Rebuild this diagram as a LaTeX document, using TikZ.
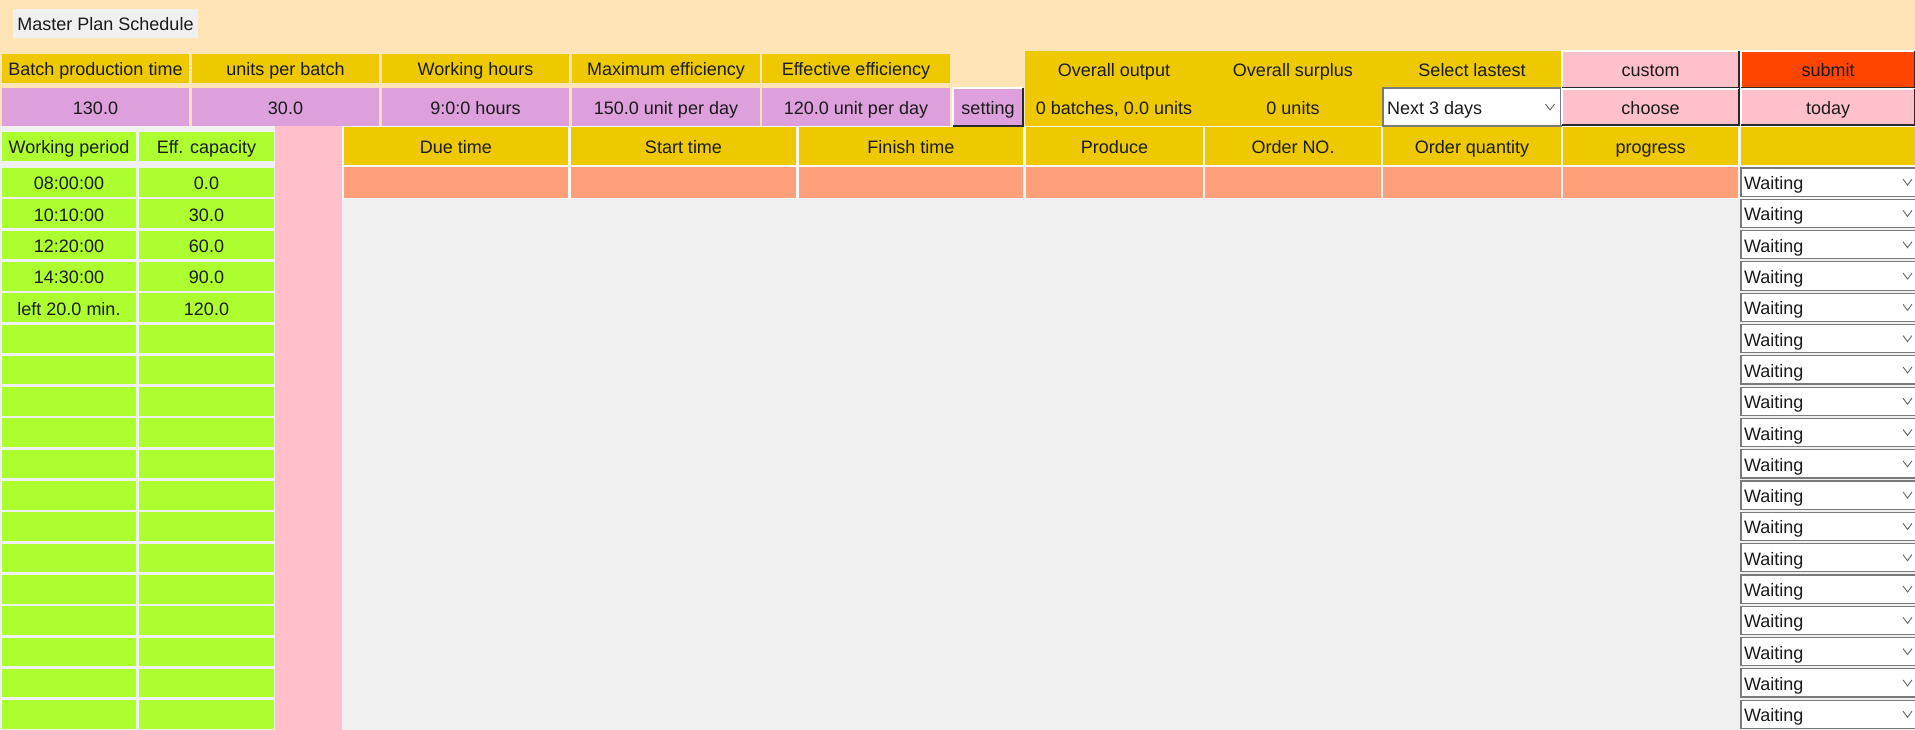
\documentclass[tikz,border=0pt]{standalone}
\usepackage{fontspec}
\setmainfont{Liberation Sans}
\definecolor{peach}{HTML}{FFE4B5}
\definecolor{ylw}{HTML}{EEC900}
\definecolor{plm}{HTML}{DDA0DD}
\definecolor{grn}{HTML}{ADFF2F}
\definecolor{pnk}{HTML}{FFC0CB}
\definecolor{slm}{HTML}{FFA07A}
\definecolor{org}{HTML}{FF4500}
\definecolor{gry}{HTML}{F0F0F0}
\definecolor{gap}{HTML}{F8F8F8}
\definecolor{txt}{HTML}{1A1A1A}
\definecolor{edge}{HTML}{7A7A7A}
\definecolor{dark}{HTML}{2A2A2A}
\newcommand\ucell[7]{%
  \pgfmathsetmacro\cw{#4-(#2)}%
  \pgfmathsetmacro\ch{#5-(#3)}%
  \node[cellbase,#6,minimum width=\cw pt,minimum height=\ch pt] (#1) at ({((#2)+(#4))/2},{((#3)+(#5))/2}) {#7};}
\newcommand\raised[1]{%
  \draw[btnlight] (#1.south west) -- (#1.north west) -- (#1.north east);
  \draw[btndark] (#1.north east) -- (#1.south east) -- (#1.south west);}
\tikzset{
  cellbase/.style={inner sep=0pt,outer sep=0pt,draw=none,text height=19pt,text depth=4pt,
    font=\fontsize{18}{20}\selectfont,text=txt},
  label/.style={inner sep=0pt,outer sep=0pt,text height=19pt,text depth=4pt,
    font=\fontsize{18}{20}\selectfont,text=txt},
  ycell/.style={fill=ylw},
  pcell/.style={fill=plm},
  gcell/.style={fill=grn},
  scell/.style={fill=slm},
  kcell/.style={fill=pnk},
  ocell/.style={fill=org},
  tcell/.style={fill=gry},
  combo/.style={fill=white,draw=edge,line width=1.2pt},
  btnlight/.style={white,line width=1.2pt},
  btndark/.style={dark,line width=1.6pt},
  chevron/.style={draw=black!60,line width=0.9pt}
}
\begin{document}
\begin{tikzpicture}[x=1pt,y=-1pt]
\useasboundingbox (0,0) rectangle (1915,730);
% backgrounds
\fill[peach] (0,0) rectangle (1915,126);
\fill[gry] (0,126) rectangle (1915,730);
\fill[gap] (342,126) rectangle (1915,199);
% title
\ucell{title}{13}{9}{198}{38}{tcell}{Master Plan Schedule}
% parameter row 1
\ucell{bpt}{2}{54}{189}{83}{ycell}{Batch production time}
\ucell{upb}{192}{54}{379}{83}{ycell}{units per batch}
\ucell{wh}{382}{54}{569}{83}{ycell}{Working hours}
\ucell{me}{572}{54}{760}{83}{ycell}{Maximum efficiency}
\ucell{ee}{762}{54}{950}{83}{ycell}{Effective efficiency}
% parameter row 2
\ucell{bptv}{2}{88}{189}{126}{pcell}{130.0}
\ucell{upbv}{192}{88}{379}{126}{pcell}{30.0}
\ucell{whv}{382}{88}{569}{126}{pcell}{9:0:0 hours}
\ucell{mev}{572}{88}{760}{126}{pcell}{150.0 unit per day}
\ucell{eev}{762}{88}{950}{126}{pcell}{120.0 unit per day}
\ucell{setting}{953}{88}{1023}{126}{pcell}{setting}
\raised{setting}
% overall block
\ucell{overall}{1025}{51}{1561}{126}{ycell}{}
\node[label] (ooh) at (1114,69) {Overall output};
\node[label] (osh) at (1293,69) {Overall surplus};
\node[label] (slh) at (1472,69) {Select lastest};
\node[label] (oov) at (1114,107) {0 batches, 0.0 units};
\node[label] (osv) at (1293,107) {0 units};
\ucell{next}{1383}{88}{1561}{126}{combo}{}
\node[label,anchor=west] (nexttxt) at (1387,107) {Next 3 days};
\draw[chevron] ([shift={(-15.5,-3)}]next.east) -- ([shift={(-11,3)}]next.east) -- ([shift={(-6.5,-3)}]next.east);
% buttons
\ucell{custom}{1562}{51}{1739}{88}{kcell}{custom}
\ucell{submit}{1741}{51}{1915}{88}{ocell}{submit}
\ucell{choose}{1562}{89}{1739}{125}{kcell}{choose}
\ucell{today}{1741}{89}{1915}{125}{kcell}{today}
\raised{custom}
\raised{submit}
\raised{choose}
\raised{today}
% main table header
\ucell{due}{344}{127}{568}{165}{ycell}{Due time}
\ucell{start}{571}{127}{796}{165}{ycell}{Start time}
\ucell{finish}{799}{127}{1023}{165}{ycell}{Finish time}
\ucell{produce}{1026}{127}{1203}{165}{ycell}{Produce}
\ucell{orderno}{1205}{127}{1381}{165}{ycell}{Order NO.}
\ucell{orderqty}{1383}{127}{1561}{165}{ycell}{Order quantity}
\ucell{progress}{1563}{127}{1738}{165}{ycell}{progress}
\ucell{status}{1741}{127}{1915}{165}{ycell}{}
% first data row
\ucell{r1due}{344}{167}{568}{198}{scell}{}
\ucell{r1start}{571}{167}{796}{198}{scell}{}
\ucell{r1finish}{799}{167}{1023}{198}{scell}{}
\ucell{r1produce}{1026}{167}{1203}{198}{scell}{}
\ucell{r1orderno}{1205}{167}{1381}{198}{scell}{}
\ucell{r1orderqty}{1383}{167}{1561}{198}{scell}{}
\ucell{r1progress}{1563}{167}{1738}{198}{scell}{}
% pink column
\ucell{pinkcol}{275}{126}{342}{730}{kcell}{}
% left green table
\ucell{wphead}{2}{132}{136}{161}{gcell}{Working period}
\ucell{echead}{139}{132}{274}{161}{gcell}{Eff. capacity}
\foreach \k/\a/\b in {0/08:00:00/0.0,1/10:10:00/30.0,2/12:20:00/60.0,3/14:30:00/90.0,4/left 20.0 min./120.0}{
  \pgfmathsetmacro\ya{168+31.3*\k}
  \pgfmathsetmacro\yb{\ya+28.6}
  \ucell{wp\k}{2}{\ya}{136}{\yb}{gcell}{\a}
  \ucell{ec\k}{139}{\ya}{274}{\yb}{gcell}{\b}
}
\foreach \k in {5,...,17}{
  \pgfmathsetmacro\ya{168+31.3*\k}
  \pgfmathsetmacro\yb{\ya+28.6}
  \ucell{wp\k}{2}{\ya}{136}{\yb}{gcell}{}
  \ucell{ec\k}{139}{\ya}{274}{\yb}{gcell}{}
}
% status combo boxes
\foreach \k in {0,...,17}{
  \pgfmathsetmacro\ya{168+31.3*\k}
  \pgfmathsetmacro\yb{\ya+28.2}
  \ucell{cb\k}{1741}{\ya}{1916}{\yb}{combo}{}
  \node[label,anchor=west] (wt\k) at ([xshift=3pt]cb\k.west) {Waiting};
  \draw[chevron] ([shift={(-13,-3)}]cb\k.east) -- ([shift={(-8.5,3)}]cb\k.east) -- ([shift={(-4,-3)}]cb\k.east);
}
\end{tikzpicture}
\end{document}
